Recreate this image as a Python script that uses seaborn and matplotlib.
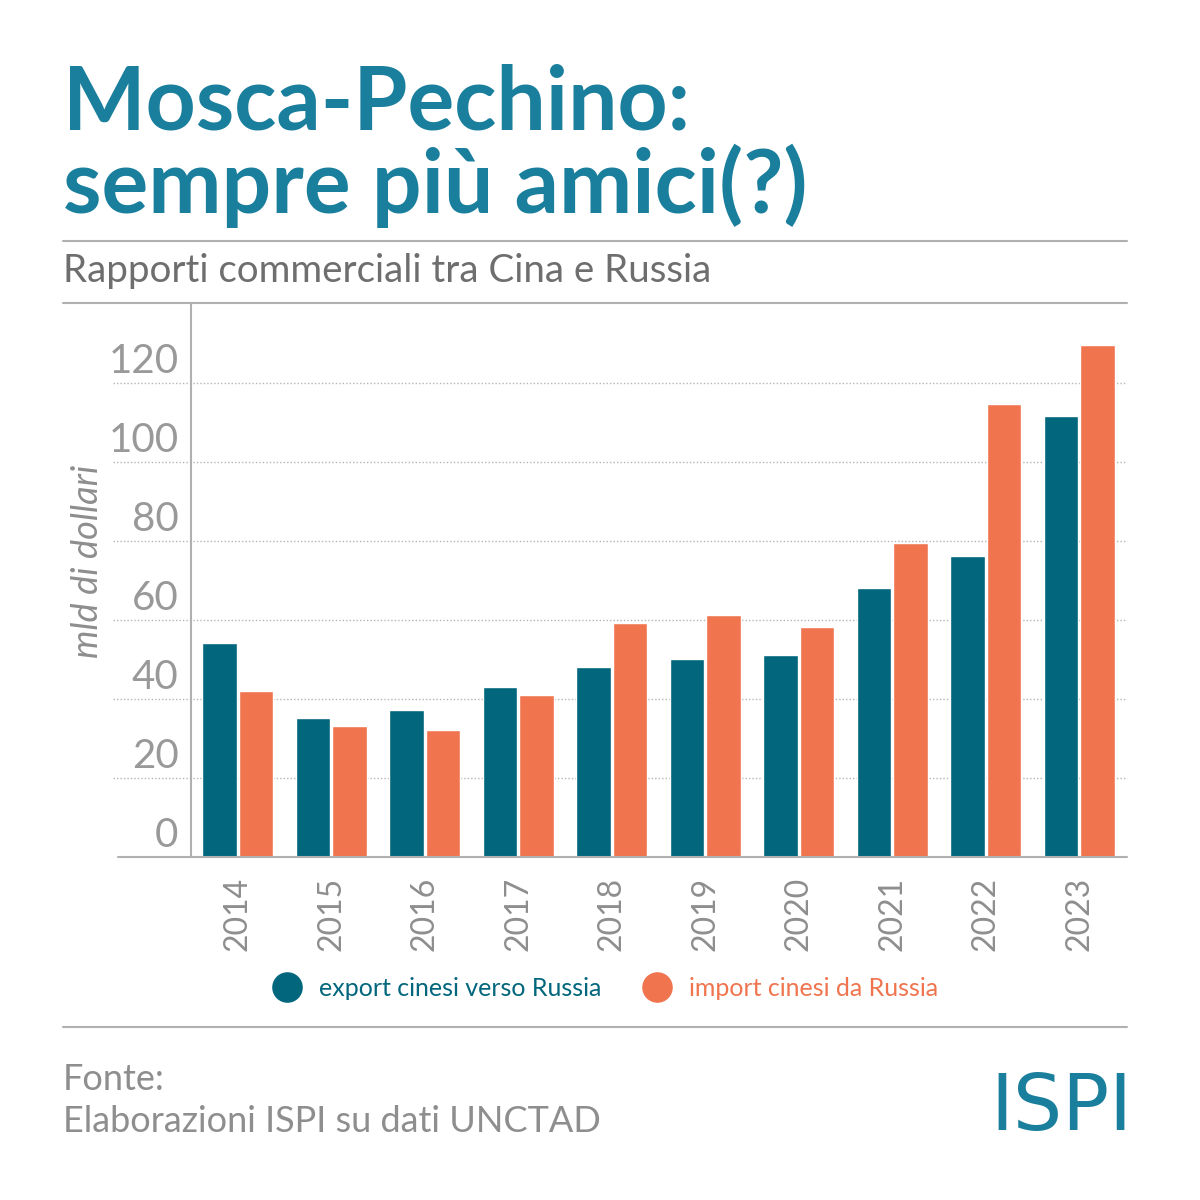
import pandas as pd
import matplotlib
matplotlib.use("Agg")
import matplotlib.pyplot as plt
from matplotlib.lines import Line2D
import seaborn as sns

# Dati (mld di dollari)
anni = ['2014', '2015', '2016', '2017', '2018', '2019', '2020', '2021', '2022', '2023']
export_cina = [54.2, 35.1, 37.1, 43.1, 48.2, 50.2, 51.2, 68.2, 76.3, 111.6]
import_cina = [42.1, 33.1, 32.1, 41.1, 59.3, 61.3, 58.1, 79.4, 114.6, 129.7]
serie = ['export cinesi verso Russia', 'import cinesi da Russia']
yticks = [0, 20, 40, 60, 80, 100, 120]

TEAL = '#02667d'
ORANGE = '#f0754f'
TITLE = '#1a7f9c'
GREY = '#8e8e8e'
RULE = '#b0b0b0'

df = pd.DataFrame({
    'anno': anni * 2,
    'valore': export_cina + import_cina,
    'serie': [serie[0]] * len(anni) + [serie[1]] * len(anni),
})

sns.set_theme(style='white')
plt.rcParams['font.family'] = ['Lato', 'DejaVu Sans']

fig = plt.figure(figsize=(12, 12), dpi=100)
ax = fig.add_axes([191 / 1200, 1 - 857 / 1200, 936 / 1200, 552 / 1200])

sns.barplot(data=df, x='anno', y='valore', hue='serie', palette=[TEAL, ORANGE],
            width=0.78, gap=0.05, saturation=1, legend=False, ax=ax)

ax.set_xlim(-0.5, 9.51)
ax.set_ylim(0, 139.7)
for s in ['top', 'right', 'bottom']:
    ax.spines[s].set_visible(False)
ax.spines['left'].set_color(RULE)
ax.spines['left'].set_linewidth(1.5)

# griglia punteggiata che si estende sotto le etichette
for v in yticks[1:]:
    ax.axhline(v, xmin=-0.083, xmax=1, color='#b5b5b5', lw=1, ls=(0, (1, 1.5)),
               clip_on=False, zorder=0)
ax.axhline(0, xmin=-0.078, xmax=1, color=RULE, lw=1.5, clip_on=False, zorder=3)

ax.set_yticks([])
for v in yticks:
    ax.annotate(str(v), xy=(0, v), xycoords=('axes fraction', 'data'),
                xytext=(-9, 7), textcoords='offset points', ha='right', va='baseline',
                fontsize=29, color='#999999')

ax.set_xlabel('')
ax.set_ylabel('')
ax.tick_params(axis='x', length=0, pad=14, labelsize=23, labelcolor=GREY, labelrotation=90)

fig.text(88 / 1200, 1 - 561 / 1200, 'mld di dollari', rotation=90, ha='center', va='center',
         fontsize=26, color=GREY, style='italic')

# titolo e sottotitolo
fig.text(63 / 1200, 1 - 130 / 1200, 'Mosca-Pechino:', fontsize=63, fontweight='bold',
         color=TITLE, ha='left', va='baseline')
fig.text(63 / 1200, 1 - 213 / 1200, 'sempre più amici(?)', fontsize=63, fontweight='bold',
         color=TITLE, ha='left', va='baseline')
fig.text(63 / 1200, 1 - 282 / 1200, 'Rapporti commerciali tra Cina e Russia', fontsize=27.7,
         color='#6e6e6e', ha='left', va='baseline')

for yy in [241, 303, 1027]:
    fig.add_artist(Line2D([63 / 1200, 1127 / 1200], [1 - yy / 1200] * 2, color=RULE, lw=1.5))

# legenda
handles = [Line2D([], [], marker='o', ls='', markersize=21, color=c) for c in [TEAL, ORANGE]]
leg = fig.legend(handles, serie, loc='center', bbox_to_anchor=(0.5, 1 - 988 / 1200), ncol=2,
                 frameon=False, fontsize=18, handletextpad=0.3, columnspacing=1.2)
for t, c in zip(leg.get_texts(), [TEAL, ORANGE]):
    t.set_color(c)

# fonte
fig.text(63 / 1200, 1 - 1090 / 1200, 'Fonte:', fontsize=26, color=GREY,
         ha='left', va='baseline')
fig.text(63 / 1200, 1 - 1132 / 1200, 'Elaborazioni ISPI su dati UNCTAD', fontsize=26,
         color=GREY, ha='left', va='baseline')
fig.text(1132 / 1200, 1 - 1130 / 1200, 'ISPI', fontsize=56, color='#1a7f9c',
         ha='right', va='baseline', fontweight='normal', family=['DejaVu Sans'])

fig.savefig('out.png', dpi=100)
